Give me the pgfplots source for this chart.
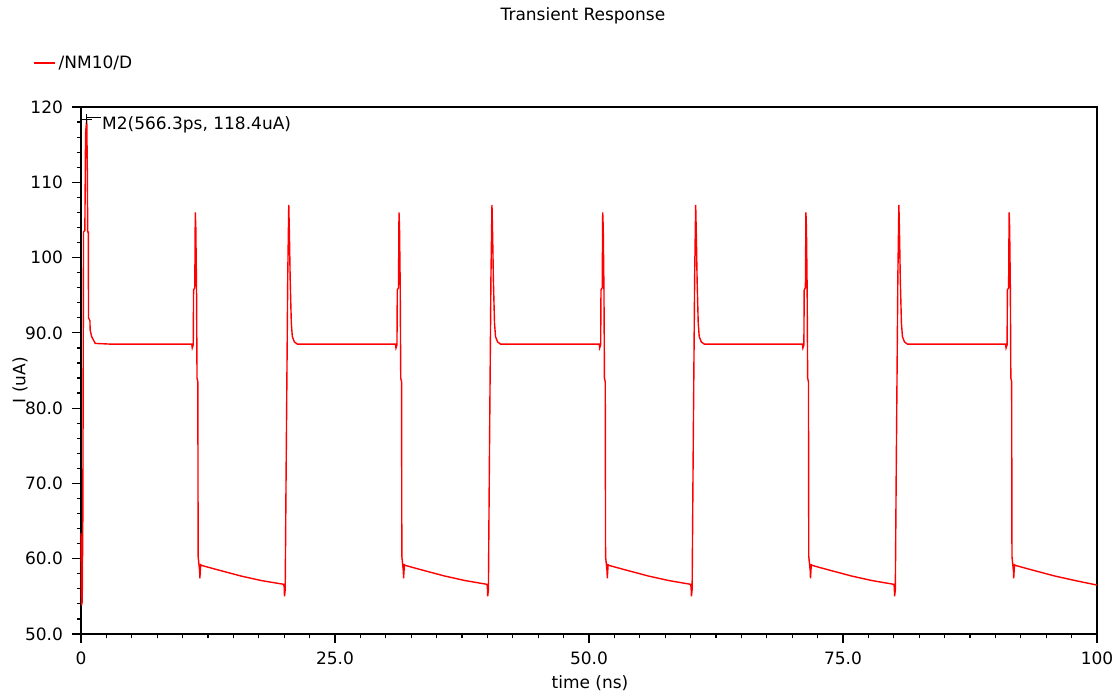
\documentclass[border=0pt]{standalone}
\usepackage{fontspec}
\setmainfont{DejaVu Sans}
\usepackage{pgfplots}
\pgfplotsset{compat=1.18}

% transient waveform of /NM10/D, time in ns, current in uA
\pgfplotstableread{
t v
0 63.4
0.05 53.8
0.12 54.3
0.18 65.4
0.25 103.4
0.38 103.6
0.45 116.5
0.566 118.4
0.62 112
0.66 103.4
0.72 103.4
0.74 92.0
0.88 91.6
0.9 90.4
1.05 89.5
1.4 88.6
3 88.5
10.90 88.5
10.95 88.0
11.05 88.4
11.08 95.7
11.20 96
11.25 106
11.30 104
11.37 96
11.42 84
11.50 83.5
11.53 60.3
11.68 58.3
11.70 57.4
11.78 59.2
11.90 59.1
13.25 58.6
15.75 57.7
17.75 57.1
19.95 56.6
20.00 56.2
20.03 55.0
20.10 55.9
20.19 71.8
20.35 97.6
20.45 107
20.52 102.6
20.59 97
20.70 91.3
20.80 89.5
21.00 88.8
21.30 88.5
30.95 88.5
31.00 88.0
31.10 88.4
31.13 95.7
31.25 96
31.30 106
31.35 104
31.42 96
31.47 84
31.55 83.5
31.58 60.3
31.73 58.3
31.75 57.4
31.83 59.2
31.95 59.1
33.30 58.6
35.80 57.7
37.80 57.1
39.95 56.6
40.00 56.2
40.03 55.0
40.10 55.9
40.19 71.8
40.35 97.6
40.45 107
40.52 102.6
40.59 97
40.70 91.3
40.80 89.5
41.00 88.8
41.30 88.5
51.00 88.5
51.05 88.0
51.15 88.4
51.18 95.7
51.30 96
51.35 106
51.40 104
51.47 96
51.52 84
51.60 83.5
51.63 60.3
51.78 58.3
51.80 57.4
51.88 59.2
52.00 59.1
53.35 58.6
55.85 57.7
57.85 57.1
60.00 56.6
60.05 56.2
60.08 55.0
60.15 55.9
60.24 71.8
60.40 97.6
60.50 107
60.57 102.6
60.64 97
60.75 91.3
60.85 89.5
61.05 88.8
61.35 88.5
71.00 88.5
71.05 88.0
71.15 88.4
71.18 95.7
71.30 96
71.35 106
71.40 104
71.47 96
71.52 84
71.60 83.5
71.63 60.3
71.78 58.3
71.80 57.4
71.88 59.2
72.00 59.1
73.35 58.6
75.85 57.7
77.85 57.1
80.00 56.6
80.05 56.2
80.08 55.0
80.15 55.9
80.24 71.8
80.40 97.6
80.50 107
80.57 102.6
80.64 97
80.75 91.3
80.85 89.5
81.05 88.8
81.35 88.5
91.00 88.5
91.05 88.0
91.15 88.4
91.18 95.7
91.30 96
91.35 106
91.40 104
91.47 96
91.52 84
91.60 83.5
91.63 60.3
91.78 58.3
91.80 57.4
91.88 59.2
92.00 59.1
93.35 58.6
95.85 57.7
97.85 57.1
100 56.5
}\wave

\begin{document}
\begin{tikzpicture}
\useasboundingbox (0,0) rectangle (559pt,349pt);
\begin{axis}[
    at={(40.5pt,32pt)}, anchor=south west,
    scale only axis,
    width=508pt, height=263.5pt,
    xmin=0, xmax=100,
    ymin=50, ymax=120,
    clip=false,
    axis line style={black, line width=0.8pt},
    every tick/.style={black, line width=0.6pt},
    tick align=outside,
    xtick pos=bottom, ytick pos=left,
    major tick length=4.5pt, minor tick length=2pt,
    xtick={0,25,50,75,100},
    xticklabels={0,25.0,50.0,75.0,100},
    minor x tick num=9,
    ytick={50,60,70,80,90,100,110,120},
    yticklabels={50.0,60.0,70.0,80.0,90.0,100,110,120},
    minor y tick num=4,
    tick label style={font=\fontsize{8.5}{10}\selectfont},
    yticklabel style={xshift=-1pt},
    xticklabel style={yshift=-1pt},
    xlabel={time (ns)},
    ylabel={I (uA)},
    label style={font=\fontsize{8.5}{10}\selectfont},
    xlabel style={at={(axis description cs:0.501,-0.093)}, anchor=center},
    ylabel style={at={(axis description cs:-0.060,0.482)}, anchor=center},
    legend style={at={(axis description cs:-0.046,1.083)}, anchor=west,
        draw=none, fill=none, inner sep=0pt,
        font=\fontsize{8.5}{10}\selectfont},
    legend image code/.code={\fill[fill=red, line width=0pt] (0pt,-0.22pt) rectangle (10pt,0.22pt);},
    legend cell align=left,
]
\addplot[red, line width=0.7pt] table[x=t, y=v] {\wave};
\addlegendentry{/NM10/D}
\addplot[black, line width=0.5pt, mark=+, mark size=2.6pt, forget plot] coordinates {(0.566,118.4)};
\draw[black, line width=0.5pt] ([yshift=1pt]axis cs:0.566,118.4) -- ([xshift=7pt, yshift=1pt]axis cs:0.566,118.4);
\node[anchor=west, inner sep=0pt, font=\fontsize{8.5}{10}\selectfont]
    at (axis cs:0.566,118.4) [xshift=7.5pt, yshift=-3pt] {M2(566.3ps, 118.4uA)};
\node[font=\fontsize{8.5}{10}\selectfont] at (axis description cs:0.494,1.173) {Transient Response};
\end{axis}
\end{tikzpicture}
\end{document}
